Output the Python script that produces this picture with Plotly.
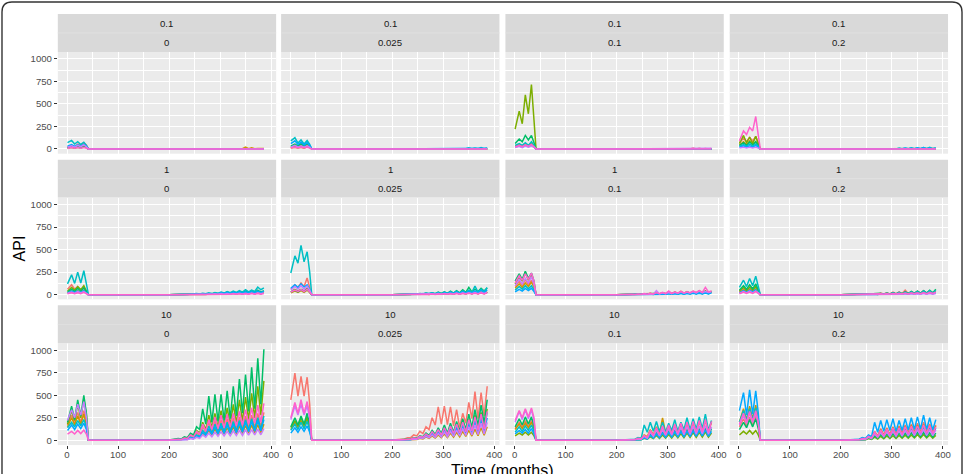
import plotly.graph_objects as go

# ---------------- data ----------------
MONTHS_EARLY = [1, 9, 15, 21, 27, 33, 38, 42]
MONTHS_LATE = [200, 206, 212, 218, 224, 230, 236, 242, 248, 254, 260, 266, 272, 278, 284, 290,
               296, 302, 308, 314, 320, 326, 332, 338, 344, 350, 356, 362, 368, 374, 380, 386]

SERIES_COLORS = ["#F8766D", "#CD9600", "#7CAE00", "#00BE67", "#00BFC4", "#00A9FF", "#C77CFF", "#FF61CC"]
ROW_LABELS = ["0.1", "1", "10"]
COL_LABELS = ["0", "0.025", "0.1", "0.2"]
X_TICKS = [0, 100, 200, 300, 400]
Y_TICKS = [0, 250, 500, 750, 1000]
X_TITLE = "Time (months)"
Y_TITLE = "API"

FLAT = [0, 0, 0, 0, 0, 0, 0, 0, 0, 0, 0, 0, 0, 0, 0, 0,
        0, 0, 0, 0, 0, 0, 0, 0, 0, 0, 0, 0, 0, 0, 0, 0]

# ---- row 0.1 ----
E11 = [[20, 40, 25, 55, 40, 70, 45, 0], [10, 20, 10, 25, 15, 30, 20, 0], [10, 20, 10, 20, 10, 25, 15, 0],
       [15, 30, 20, 35, 20, 40, 25, 0], [70, 95, 55, 80, 50, 75, 40, 0], [30, 50, 30, 45, 30, 50, 30, 0],
       [20, 35, 20, 40, 25, 45, 25, 0], [5, 15, 8, 15, 8, 15, 8, 0]]
L11 = [[0, 0, 0, 0, 0, 0, 0, 0, 0, 0, 0, 0, 0, 0, 0, 0, 0, 0, 0, 0, 0, 0, 0, 0, 0, 2, 0, 3, 0, 2, 0, 3],
       [0, 0, 0, 0, 0, 0, 0, 0, 0, 0, 0, 0, 0, 0, 0, 0, 0, 0, 0, 0, 0, 0, 0, 8, 3, 22, 4, 12, 2, 6, 1, 4],
       FLAT, FLAT, FLAT, FLAT, FLAT, FLAT]

E12 = [[15, 30, 15, 30, 15, 35, 20, 0], [10, 20, 10, 20, 10, 25, 15, 0], [20, 40, 25, 45, 30, 50, 30, 0],
       [30, 55, 35, 60, 35, 65, 35, 0], [90, 125, 65, 100, 55, 95, 50, 0], [60, 90, 50, 75, 45, 70, 40, 0],
       [20, 40, 20, 35, 20, 35, 20, 0], [10, 20, 10, 20, 10, 20, 10, 0]]
L12 = [FLAT, FLAT, FLAT, FLAT,
       [0, 0, 0, 0, 0, 0, 0, 0, 0, 0, 0, 0, 0, 0, 0, 0, 0, 0, 0, 0, 1, 5, 1, 8, 2, 12, 3, 10, 2, 15, 3, 12],
       [0, 0, 0, 0, 0, 0, 0, 0, 0, 0, 0, 0, 0, 0, 0, 0, 0, 0, 0, 0, 0, 0, 0, 4, 1, 6, 1, 8, 2, 6, 1, 8],
       FLAT, FLAT]

E13 = [[30, 50, 35, 60, 40, 60, 30, 0], [20, 40, 25, 45, 30, 70, 30, 0], [220, 420, 280, 600, 390, 715, 320, 0],
       [60, 110, 80, 150, 100, 150, 70, 0], [40, 60, 40, 70, 40, 80, 40, 0], [20, 35, 20, 40, 25, 40, 20, 0],
       [15, 30, 15, 35, 20, 35, 20, 0], [20, 40, 25, 45, 30, 50, 25, 0]]
L13 = [[0, 0, 0, 0, 0, 0, 0, 0, 0, 0, 0, 0, 0, 0, 0, 4, 0, 6, 0, 8, 0, 5, 0, 6, 0, 10, 0, 8, 0, 6, 0, 5],
       FLAT, FLAT, FLAT, FLAT, FLAT,
       [0, 0, 0, 0, 0, 0, 0, 0, 0, 0, 0, 0, 0, 0, 0, 0, 0, 0, 0, 0, 0, 0, 0, 0, 0, 5, 0, 8, 0, 6, 0, 8],
       FLAT]

E14 = [[70, 120, 80, 130, 90, 140, 60, 0], [40, 80, 50, 90, 50, 80, 40, 0], [60, 150, 70, 130, 60, 140, 60, 0],
       [40, 70, 40, 80, 45, 80, 40, 0], [30, 50, 30, 55, 30, 55, 30, 0], [20, 35, 20, 35, 20, 40, 20, 0],
       [10, 20, 10, 20, 10, 20, 10, 0], [90, 200, 160, 240, 200, 360, 150, 0]]
L14 = [FLAT, FLAT,
       [0, 0, 0, 0, 0, 0, 0, 0, 0, 0, 0, 0, 0, 0, 0, 0, 0, 0, 0, 0, 0, 5, 0, 8, 0, 6, 0, 5, 0, 7, 0, 5],
       FLAT,
       [0, 0, 0, 0, 0, 0, 0, 0, 0, 0, 0, 0, 0, 0, 0, 3, 1, 6, 1, 10, 2, 8, 2, 12, 3, 10, 2, 15, 4, 18, 3, 12],
       [0, 0, 0, 0, 0, 0, 0, 0, 0, 0, 0, 0, 0, 0, 0, 0, 1, 5, 1, 8, 2, 10, 2, 8, 2, 14, 3, 16, 3, 10, 2, 12],
       FLAT, FLAT]

# ---- row 1 ----
E21 = [[60, 110, 60, 90, 50, 80, 40, 0], [20, 40, 20, 45, 25, 50, 25, 0], [40, 80, 50, 90, 55, 100, 40, 0],
       [30, 60, 35, 70, 40, 75, 35, 0], [120, 220, 125, 250, 130, 265, 120, 0], [20, 40, 25, 40, 25, 45, 20, 0],
       [15, 30, 15, 35, 20, 35, 15, 0], [10, 20, 10, 20, 10, 25, 10, 0]]
L21 = [[0, 1, 0, 2, 1, 3, 1, 4, 2, 6, 3, 8, 4, 10, 5, 12, 6, 14, 7, 16, 8, 18, 9, 20, 10, 22, 11, 24, 12, 26, 13, 25],
       [0, 1, 0, 1, 0, 2, 1, 3, 2, 5, 3, 6, 3, 8, 4, 10, 5, 12, 6, 14, 7, 15, 8, 16, 9, 18, 10, 20, 10, 22, 11, 20],
       [0, 1, 0, 2, 1, 3, 1, 5, 2, 7, 3, 9, 4, 11, 5, 13, 6, 15, 7, 17, 8, 19, 9, 21, 10, 23, 11, 25, 12, 27, 13, 25],
       [0, 1, 0, 2, 1, 4, 2, 6, 3, 10, 5, 12, 7, 16, 9, 20, 11, 24, 13, 28, 15, 32, 18, 36, 20, 40, 22, 45, 25, 50, 28, 45],
       [0, 2, 1, 3, 2, 5, 3, 8, 5, 12, 8, 15, 10, 20, 12, 25, 15, 30, 18, 35, 22, 40, 25, 45, 28, 55, 30, 50, 35, 85, 55, 75],
       [0, 1, 0, 2, 1, 3, 2, 5, 3, 8, 4, 10, 6, 14, 8, 16, 10, 20, 12, 24, 14, 26, 15, 30, 16, 32, 18, 35, 20, 40, 22, 38],
       [0, 1, 0, 1, 0, 2, 1, 3, 1, 5, 2, 6, 3, 8, 4, 10, 5, 12, 6, 13, 6, 14, 7, 15, 8, 16, 8, 18, 9, 20, 10, 18],
       [0, 0, 0, 1, 0, 1, 0, 2, 1, 3, 1, 4, 2, 5, 2, 6, 3, 7, 3, 8, 4, 9, 4, 10, 5, 11, 5, 12, 6, 13, 6, 12]]

E22 = [[60, 110, 80, 130, 90, 185, 80, 0], [20, 40, 25, 45, 25, 50, 25, 0], [30, 60, 40, 60, 40, 70, 30, 0],
       [30, 50, 30, 55, 35, 60, 30, 0], [240, 430, 350, 545, 365, 475, 250, 0], [70, 110, 80, 120, 85, 110, 60, 0],
       [50, 90, 60, 100, 60, 95, 50, 0], [30, 50, 35, 55, 35, 60, 30, 0]]
L22 = [[0, 1, 0, 2, 1, 3, 1, 5, 2, 7, 3, 9, 4, 11, 5, 14, 6, 16, 7, 18, 8, 20, 9, 24, 10, 26, 11, 28, 12, 30, 14, 32],
       [0, 1, 0, 1, 0, 2, 1, 3, 2, 5, 3, 7, 3, 9, 4, 11, 5, 13, 6, 15, 7, 17, 8, 19, 9, 22, 10, 24, 10, 26, 11, 25],
       [0, 1, 0, 2, 1, 3, 1, 5, 2, 7, 3, 9, 4, 12, 5, 14, 6, 16, 7, 18, 8, 20, 9, 22, 10, 24, 11, 26, 12, 28, 13, 30],
       [0, 2, 1, 4, 2, 6, 3, 10, 5, 14, 7, 18, 9, 22, 11, 28, 13, 32, 15, 38, 18, 45, 20, 55, 25, 80, 30, 60, 35, 70, 40, 75],
       [0, 1, 0, 3, 1, 5, 2, 8, 4, 12, 6, 16, 8, 20, 10, 24, 12, 28, 14, 32, 16, 38, 18, 42, 20, 50, 25, 95, 30, 60, 35, 80],
       [0, 1, 0, 2, 1, 4, 2, 6, 3, 9, 4, 12, 6, 15, 7, 18, 9, 22, 10, 26, 12, 30, 14, 34, 16, 38, 18, 42, 20, 50, 22, 55],
       [0, 1, 0, 2, 1, 3, 1, 4, 2, 6, 3, 8, 4, 10, 5, 12, 6, 14, 7, 16, 8, 18, 9, 20, 10, 22, 11, 24, 12, 26, 13, 28],
       [0, 1, 0, 1, 0, 2, 1, 3, 1, 4, 2, 5, 2, 7, 3, 8, 4, 10, 5, 11, 5, 12, 6, 14, 7, 15, 7, 16, 8, 18, 9, 20]]

E23 = [[90, 150, 100, 170, 110, 160, 100, 0], [70, 120, 80, 130, 90, 140, 80, 0], [120, 200, 150, 250, 160, 220, 120, 0],
       [150, 230, 170, 260, 180, 240, 150, 0], [50, 90, 60, 100, 65, 100, 50, 0], [30, 60, 40, 70, 45, 70, 35, 0],
       [100, 170, 120, 180, 130, 200, 110, 0], [130, 210, 160, 230, 170, 240, 150, 0]]
L23 = [[0, 1, 0, 3, 1, 5, 2, 8, 3, 10, 5, 14, 6, 18, 8, 22, 10, 30, 12, 28, 14, 40, 16, 35, 18, 38, 20, 45, 20, 40, 22, 38],
       [0, 1, 0, 2, 1, 4, 2, 6, 3, 10, 5, 15, 6, 18, 8, 22, 10, 25, 12, 28, 14, 30, 15, 32, 16, 35, 18, 38, 20, 40, 22, 36],
       [0, 1, 0, 2, 1, 3, 1, 5, 2, 7, 3, 9, 4, 12, 5, 15, 6, 18, 7, 20, 8, 22, 9, 24, 10, 26, 11, 28, 12, 30, 13, 28],
       [0, 1, 0, 2, 1, 3, 2, 5, 3, 8, 4, 11, 5, 14, 6, 18, 7, 22, 8, 25, 9, 28, 10, 30, 12, 33, 13, 35, 14, 38, 15, 35],
       [0, 1, 0, 1, 0, 2, 1, 3, 2, 5, 3, 7, 3, 9, 4, 11, 5, 13, 6, 15, 7, 17, 8, 19, 9, 22, 10, 24, 10, 26, 11, 25],
       [0, 0, 0, 1, 0, 2, 1, 3, 1, 4, 2, 5, 2, 7, 3, 8, 4, 10, 5, 11, 5, 12, 6, 14, 7, 15, 7, 16, 8, 18, 9, 20],
       [0, 1, 0, 2, 1, 4, 2, 6, 3, 9, 4, 12, 5, 45, 8, 20, 10, 24, 12, 26, 14, 35, 16, 30, 18, 32, 20, 40, 22, 35, 24, 32],
       [0, 2, 1, 4, 2, 6, 3, 8, 4, 12, 6, 16, 8, 20, 10, 25, 12, 40, 15, 30, 18, 35, 20, 30, 22, 40, 25, 45, 25, 80, 30, 40]]

E24 = [[30, 60, 35, 65, 35, 70, 30, 0], [25, 50, 30, 55, 30, 60, 25, 0], [40, 80, 45, 85, 50, 90, 45, 0],
       [50, 100, 60, 110, 65, 120, 55, 0], [80, 160, 90, 180, 100, 205, 90, 0], [20, 45, 25, 50, 30, 55, 25, 0],
       [15, 35, 20, 40, 20, 40, 20, 0], [10, 30, 15, 30, 15, 35, 15, 0]]
L24 = [[0, 1, 0, 2, 1, 4, 2, 6, 3, 9, 4, 12, 5, 18, 7, 22, 8, 28, 10, 32, 12, 50, 14, 35, 16, 38, 18, 45, 20, 40, 22, 42],
       [0, 1, 0, 2, 1, 3, 1, 5, 2, 7, 3, 9, 4, 12, 5, 15, 6, 18, 7, 22, 8, 30, 9, 26, 10, 28, 11, 35, 12, 30, 13, 32],
       [0, 1, 0, 1, 0, 2, 1, 3, 2, 5, 3, 7, 3, 9, 4, 11, 5, 13, 6, 15, 7, 17, 8, 19, 9, 22, 10, 24, 10, 26, 11, 25],
       [0, 1, 0, 2, 1, 3, 2, 5, 3, 8, 4, 11, 5, 14, 6, 18, 7, 22, 8, 26, 10, 30, 12, 35, 14, 40, 16, 45, 18, 50, 20, 60],
       [0, 1, 0, 2, 1, 3, 2, 5, 2, 7, 3, 10, 4, 13, 5, 16, 6, 20, 7, 24, 8, 28, 10, 32, 11, 36, 12, 40, 14, 44, 15, 50],
       [0, 1, 0, 1, 0, 2, 1, 3, 1, 5, 2, 6, 3, 8, 4, 10, 5, 12, 6, 13, 6, 14, 7, 15, 8, 16, 8, 18, 9, 20, 10, 18],
       [0, 0, 0, 1, 0, 1, 0, 2, 1, 3, 1, 4, 2, 5, 2, 6, 3, 7, 3, 8, 4, 9, 4, 10, 5, 11, 5, 12, 6, 13, 6, 12],
       [0, 1, 0, 2, 1, 3, 1, 4, 2, 6, 3, 8, 4, 10, 5, 12, 6, 14, 7, 16, 8, 18, 9, 20, 10, 22, 11, 24, 12, 26, 13, 28]]

# ---- row 10 ----
E31 = [[170, 280, 190, 310, 200, 330, 200, 0], [150, 250, 170, 270, 180, 290, 170, 0], [180, 330, 220, 400, 250, 460, 280, 0],
       [200, 380, 230, 450, 270, 500, 300, 0], [140, 200, 150, 220, 160, 230, 150, 0], [110, 170, 120, 180, 130, 190, 120, 0],
       [220, 340, 250, 400, 280, 430, 250, 0], [70, 100, 70, 110, 75, 115, 70, 0]]
L31 = [[3, 6, 5, 10, 8, 20, 15, 40, 30, 80, 60, 150, 90, 200, 100, 220, 110, 230, 115, 240, 120, 250, 125, 260, 130, 270, 135, 280, 140, 300, 150, 310],
       [2, 5, 4, 8, 6, 14, 10, 25, 18, 45, 30, 80, 50, 110, 55, 125, 60, 135, 65, 140, 70, 150, 72, 160, 75, 165, 78, 170, 80, 175, 85, 180],
       [4, 8, 6, 15, 12, 30, 25, 60, 45, 110, 80, 200, 120, 280, 140, 300, 150, 330, 160, 360, 170, 400, 190, 450, 210, 480, 230, 520, 250, 600, 280, 660],
       [5, 10, 8, 20, 15, 40, 30, 80, 60, 150, 120, 350, 180, 490, 200, 510, 210, 510, 220, 550, 240, 600, 270, 680, 300, 730, 320, 810, 350, 910, 400, 1010],
       [3, 6, 5, 10, 8, 18, 14, 35, 25, 60, 45, 110, 70, 160, 80, 180, 90, 190, 95, 200, 100, 210, 105, 220, 110, 230, 115, 240, 120, 250, 125, 270],
       [2, 5, 4, 8, 6, 15, 12, 30, 20, 50, 35, 90, 55, 130, 65, 150, 70, 160, 75, 170, 80, 180, 85, 190, 90, 200, 95, 210, 100, 220, 105, 230],
       [2, 4, 3, 6, 5, 10, 8, 20, 14, 35, 22, 60, 35, 80, 40, 90, 45, 95, 48, 100, 50, 105, 52, 110, 55, 115, 58, 120, 60, 125, 62, 130],
       [4, 8, 6, 12, 10, 25, 20, 60, 40, 100, 70, 180, 100, 230, 120, 260, 130, 280, 140, 290, 150, 300, 160, 320, 170, 340, 180, 360, 190, 390, 200, 410]]

E32 = [[450, 745, 490, 710, 490, 700, 400, 0], [120, 200, 140, 220, 150, 230, 140, 0], [140, 220, 160, 250, 170, 260, 150, 0],
       [150, 250, 170, 270, 180, 300, 170, 0], [110, 180, 120, 200, 130, 210, 120, 0], [80, 140, 90, 150, 100, 160, 90, 0],
       [230, 380, 280, 400, 280, 380, 250, 0], [250, 420, 300, 450, 300, 430, 280, 0]]
L32 = [[3, 5, 8, 15, 15, 30, 30, 60, 50, 100, 75, 150, 120, 250, 170, 370, 180, 380, 175, 370, 160, 340, 140, 300, 190, 420, 240, 540, 240, 530, 270, 600],
       [1, 3, 2, 5, 4, 8, 6, 14, 10, 24, 16, 38, 22, 50, 26, 60, 30, 70, 32, 80, 36, 90, 40, 100, 44, 110, 48, 125, 52, 140, 56, 150],
       [2, 4, 4, 8, 8, 14, 12, 25, 20, 45, 35, 70, 45, 95, 55, 120, 60, 140, 65, 160, 75, 180, 85, 200, 95, 240, 110, 280, 120, 310, 140, 350],
       [2, 4, 4, 8, 8, 15, 15, 30, 25, 50, 40, 80, 55, 110, 65, 140, 75, 170, 80, 190, 90, 210, 100, 240, 120, 290, 140, 340, 160, 390, 190, 450],
       [2, 4, 3, 7, 6, 12, 10, 22, 18, 40, 30, 60, 40, 85, 50, 110, 55, 130, 60, 150, 70, 170, 80, 190, 90, 220, 100, 250, 110, 280, 120, 310],
       [2, 3, 3, 6, 5, 10, 8, 20, 15, 35, 25, 55, 35, 75, 40, 95, 45, 110, 50, 125, 55, 140, 60, 160, 70, 180, 80, 210, 90, 230, 100, 250],
       [1, 3, 3, 5, 5, 9, 8, 16, 12, 28, 20, 45, 28, 60, 32, 75, 36, 90, 40, 100, 45, 115, 50, 130, 55, 150, 60, 170, 65, 190, 70, 200],
       [2, 4, 4, 8, 8, 14, 12, 25, 20, 45, 35, 70, 45, 95, 55, 120, 60, 140, 65, 160, 75, 180, 85, 200, 95, 230, 105, 260, 115, 290, 125, 320]]

E33 = [[130, 200, 150, 220, 150, 220, 140, 0], [120, 180, 130, 190, 140, 200, 120, 0], [50, 80, 60, 90, 60, 90, 50, 0],
       [150, 240, 170, 260, 180, 260, 160, 0], [90, 150, 100, 160, 110, 170, 100, 0], [70, 110, 80, 120, 80, 130, 70, 0],
       [200, 320, 230, 340, 240, 340, 220, 0], [220, 330, 250, 350, 260, 360, 250, 0]]
L33 = [[2, 3, 3, 6, 5, 10, 8, 20, 15, 50, 30, 100, 50, 130, 60, 150, 65, 160, 70, 170, 75, 180, 80, 190, 85, 200, 90, 210, 95, 220, 90, 200],
       [2, 3, 3, 6, 5, 12, 10, 25, 20, 60, 40, 120, 60, 150, 70, 250, 80, 170, 85, 180, 90, 190, 95, 200, 100, 210, 105, 220, 110, 230, 105, 210],
       [1, 2, 2, 3, 3, 5, 4, 10, 6, 22, 12, 40, 20, 55, 22, 60, 24, 65, 26, 70, 28, 75, 30, 80, 32, 85, 34, 90, 36, 95, 35, 80],
       [1, 2, 2, 4, 4, 8, 6, 15, 10, 35, 20, 70, 35, 90, 40, 100, 42, 110, 45, 115, 48, 120, 50, 125, 52, 130, 55, 135, 58, 140, 55, 130],
       [2, 3, 4, 8, 6, 15, 12, 30, 20, 170, 90, 200, 100, 210, 95, 200, 90, 190, 110, 230, 100, 200, 120, 250, 115, 240, 125, 260, 130, 290, 110, 220],
       [1, 2, 2, 4, 3, 6, 5, 12, 8, 28, 15, 55, 25, 70, 30, 80, 32, 85, 35, 90, 38, 95, 40, 100, 42, 105, 45, 110, 48, 115, 45, 100],
       [1, 3, 3, 5, 5, 9, 8, 18, 12, 45, 25, 90, 45, 110, 50, 120, 55, 130, 58, 140, 60, 145, 62, 150, 65, 155, 68, 160, 70, 165, 68, 150],
       [2, 3, 3, 6, 5, 10, 8, 22, 15, 55, 30, 110, 55, 140, 60, 160, 65, 170, 70, 180, 75, 190, 80, 200, 85, 210, 90, 220, 95, 230, 90, 210]]

E34 = [[150, 240, 160, 260, 170, 270, 150, 0], [200, 350, 230, 380, 240, 390, 230, 0], [60, 100, 70, 110, 70, 110, 60, 0],
       [120, 200, 140, 230, 150, 240, 130, 0], [200, 330, 220, 350, 230, 360, 220, 0], [330, 530, 280, 560, 290, 550, 300, 0],
       [170, 280, 190, 300, 200, 300, 190, 0], [180, 300, 200, 320, 210, 330, 200, 0]]
L34 = [[2, 3, 3, 6, 5, 12, 10, 25, 18, 50, 30, 100, 50, 130, 60, 140, 65, 150, 70, 160, 75, 170, 80, 180, 85, 190, 90, 200, 90, 180, 85, 170],
       [2, 3, 3, 6, 5, 10, 8, 22, 15, 45, 28, 90, 45, 120, 55, 130, 60, 140, 65, 150, 70, 160, 75, 165, 80, 170, 85, 175, 80, 170, 80, 160],
       [1, 2, 2, 3, 3, 5, 4, 10, 6, 20, 10, 35, 15, 45, 18, 50, 20, 52, 22, 55, 24, 58, 25, 60, 26, 62, 28, 65, 27, 60, 25, 55],
       [1, 2, 2, 3, 3, 6, 5, 12, 8, 28, 15, 50, 25, 65, 28, 70, 30, 75, 32, 80, 34, 82, 36, 85, 38, 88, 40, 90, 38, 85, 36, 80],
       [1, 3, 3, 5, 5, 9, 8, 18, 12, 40, 24, 80, 40, 100, 45, 110, 50, 120, 55, 125, 58, 130, 60, 135, 62, 140, 65, 145, 64, 140, 62, 135],
       [2, 4, 4, 8, 8, 15, 12, 30, 20, 60, 40, 200, 90, 220, 100, 230, 110, 240, 100, 220, 110, 240, 115, 250, 120, 260, 125, 280, 120, 250, 115, 230],
       [1, 2, 2, 4, 4, 8, 6, 15, 10, 35, 20, 70, 35, 85, 40, 95, 42, 100, 45, 105, 48, 110, 50, 115, 52, 120, 55, 125, 54, 120, 52, 115],
       [2, 3, 3, 6, 5, 10, 8, 20, 15, 45, 28, 90, 45, 115, 50, 125, 55, 135, 60, 140, 65, 150, 70, 155, 75, 160, 80, 170, 78, 165, 75, 150]]

EARLY = [[E11, E12, E13, E14], [E21, E22, E23, E24], [E31, E32, E33, E34]]
LATE = [[L11, L12, L13, L14], [L21, L22, L23, L24], [L31, L32, L33, L34]]

# ---------------- layout geometry (pixels) ----------------
W, H = 967, 474
COL_PX = [(58, 277), (282, 501), (507, 726), (732, 951)]
ROW_PX = [(14, 52, 154), (160, 198, 300), (306, 344, 446)]  # strip top, panel top, panel bottom
X_RANGE = [-18, 410]
Y_RANGE = [-52, 1076]


def fx(px):
    return px / W


def fy(py):
    return 1 - py / H


TICK_FONT = dict(family="Liberation Sans, Arial, sans-serif", size=9.6, color="#4D4D4D")
STRIP_FONT = dict(family="Liberation Sans, Arial, sans-serif", size=9.6, color="#1A1A1A")
TITLE_FONT = dict(family="Liberation Sans, Arial, sans-serif", size=16, color="#000000")

fig = go.Figure()
shapes = []
annotations = []
layout_axes = {}

for r in range(3):
    for c in range(4):
        k = r * 4 + c + 1
        xname = "x" if k == 1 else f"x{k}"
        yname = "y" if k == 1 else f"y{k}"
        for s in range(8):
            xs, ys = [], []
            for t, v in zip(MONTHS_EARLY, EARLY[r][c][s]):
                xs.append(t)
                ys.append(v)
            for t, v in zip(MONTHS_LATE, LATE[r][c][s]):
                xs.append(t)
                ys.append(v)
            fig.add_trace(go.Scatter(x=xs, y=ys, mode="lines", xaxis=xname, yaxis=yname,
                                     line=dict(color=SERIES_COLORS[s], width=1.5),
                                     showlegend=False, hoverinfo="skip"))
        x0, x1 = COL_PX[c]
        st, pt, pb = ROW_PX[r]
        bottom = (r == 2)
        left = (c == 0)
        layout_axes["xaxis" if k == 1 else f"xaxis{k}"] = dict(
            domain=[fx(x0), fx(x1)], range=X_RANGE, anchor=yname, showline=False, zeroline=False,
            showgrid=True, gridcolor="white", gridwidth=1.2, tickvals=X_TICKS,
            ticks="outside" if bottom else "", ticklen=3, tickwidth=1, tickcolor="#333333",
            showticklabels=bottom, tickfont=TICK_FONT, ticklabelstandoff=-3,
            minor=dict(tickvals=[50, 150, 250, 350], showgrid=True, gridcolor="white", gridwidth=0.6, ticks=""))
        layout_axes["yaxis" if k == 1 else f"yaxis{k}"] = dict(
            domain=[fy(pb), fy(pt)], range=Y_RANGE, anchor=xname, showline=False, zeroline=False,
            showgrid=True, gridcolor="white", gridwidth=1.2, tickvals=Y_TICKS,
            ticks="outside" if left else "", ticklen=3, tickwidth=1, tickcolor="#333333",
            showticklabels=left, tickfont=TICK_FONT,
            minor=dict(tickvals=[125, 375, 625, 875], showgrid=True, gridcolor="white", gridwidth=0.6, ticks=""))
        # strip
        shapes.append(dict(type="rect", xref="paper", yref="paper", x0=fx(x0), x1=fx(x1), y0=fy(pt), y1=fy(st),
                           fillcolor="#D9D9D9", line=dict(width=0), layer="above"))
        mid = (st + pt) / 2
        shapes.append(dict(type="line", xref="paper", yref="paper", x0=fx(x0), x1=fx(x1), y0=fy(mid), y1=fy(mid),
                           line=dict(color="#E2E2E2", width=0.8)))
        annotations.append(dict(text=ROW_LABELS[r], x=fx((x0 + x1) / 2), y=fy((st + mid) / 2), xref="paper", yref="paper",
                                showarrow=False, xanchor="center", yanchor="middle", font=STRIP_FONT))
        annotations.append(dict(text=COL_LABELS[c], x=fx((x0 + x1) / 2), y=fy((mid + pt) / 2), xref="paper", yref="paper",
                                showarrow=False, xanchor="center", yanchor="middle", font=STRIP_FONT))

annotations.append(dict(text=Y_TITLE, x=fx(20), y=fy(249), xref="paper", yref="paper", showarrow=False,
                        textangle=-90, xanchor="center", yanchor="middle", font=TITLE_FONT))
annotations.append(dict(text=X_TITLE, x=fx(504.5), y=fy(461), xref="paper", yref="paper", showarrow=False,
                        xanchor="center", yanchor="top", font=TITLE_FONT))

# rounded outer frame (open at the bottom, as cropped)
R = 10
frame = (f"M {fx(2)},{fy(490)} L {fx(2)},{fy(2 + R)} Q {fx(2)},{fy(2)} {fx(2 + R)},{fy(2)} "
         f"L {fx(965 - R)},{fy(2)} Q {fx(965)},{fy(2)} {fx(965)},{fy(2 + R)} L {fx(965)},{fy(490)}")
shapes.append(dict(type="path", xref="paper", yref="paper", path=frame, line=dict(color="#333333", width=1.4)))

fig.update_layout(width=W, height=H, margin=dict(l=0, r=0, t=0, b=0),
                  paper_bgcolor="white", plot_bgcolor="#EBEBEB",
                  shapes=shapes, annotations=annotations, showlegend=False, **layout_axes)

fig.write_html("out.html")
